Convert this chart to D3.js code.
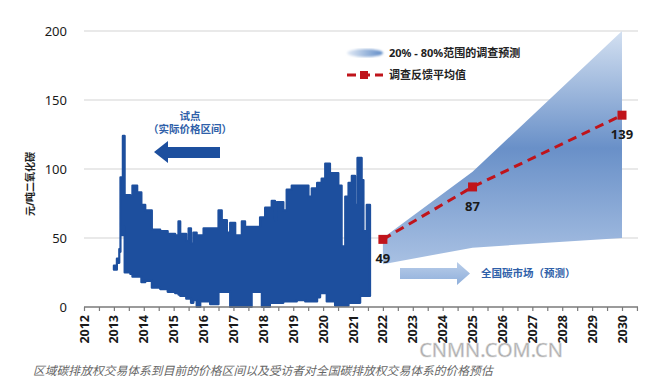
<!DOCTYPE html>
<html>
<head>
<meta charset="utf-8">
<script src="https://cdn.jsdelivr.net/npm/d3@7"></script>
<style>
  body { margin: 0; background: #fff; }
  text { font-family: "Noto Sans", "Noto Sans CJK SC", sans-serif; }
</style>
</head>
<body>
<div id="chart"></div>
<script>
// pilot markets: observed price range (low / high), stepped in time
var histYears = [2013.00, 2013.10, 2013.18, 2013.22, 2013.30, 2013.36, 2013.55, 2013.62, 2013.78, 2013.92,
  2014.05, 2014.27, 2014.55, 2014.80, 2015.05, 2015.16, 2015.22, 2015.42, 2015.50, 2015.58,
  2015.66, 2015.77, 2015.89, 2016.00, 2016.22, 2016.44, 2016.50, 2016.61, 2016.78, 2016.89,
  2017.06, 2017.28, 2017.39, 2017.61, 2017.89, 2017.95, 2018.06, 2018.22, 2018.28, 2018.39,
  2018.45, 2018.67, 2018.78, 2018.95, 2019.12, 2019.40, 2019.51, 2019.62, 2019.80, 2019.90,
  2019.95, 2020.07, 2020.12, 2020.23, 2020.40, 2020.51, 2020.62, 2020.74, 2020.85, 2020.96,
  2021.07, 2021.15, 2021.24, 2021.29, 2021.35, 2021.46, 2021.57];
var histLow = [27, 32, 40, 52, 58, 25, 24, 22, 22, 18,
  19, 14, 13, 11, 10, 9, 8, 6, 6, 3,
  5, 0, 4, 4, 2, 2, 11, 11, 11, 0,
  0, 0, 0, 11, 11, 0, 0, 3, 3, 3,
  3, 4, 4, 4, 5, 4, 4, 4, 7, 10,
  10, 10, 4, 4, 1, 1, 1, 1, 3, 3,
  3, 3, 8, 8, 8, 8, 8];
var histHigh = [30, 35, 42, 94, 124, 81, 80, 88, 83, 74,
  70, 56, 55, 53, 52, 62, 53, 48, 57, 46,
  54, 52, 52, 57, 57, 57, 70, 63, 54, 61,
  52, 62, 58, 58, 65, 65, 72, 72, 77, 63,
  76, 70, 85, 88, 88, 88, 80, 86, 90, 90,
  93, 104, 104, 97, 97, 88, 44, 80, 90, 95,
  74, 108, 108, 92, 55, 74, 74];

// national market survey forecast
var fcYears = [2022, 2025, 2030];
var fcLow = [31, 43, 50];     // 20% band
var fcHigh = [50, 98, 200];   // 80% band
var fcMean = [49, 87, 139];

var yTicks = [0, 50, 100, 150, 200];
var xTickLabels = d3.range(2012, 2031);

var legendLabels = ["20% - 80%范围的调查预测", "调查反馈平均值"];
var pilotLabels = ["试点", "（实际价格区间）"];
var nationalLabel = "全国碳市场（预测）";
var yTitle = "元/吨二氧化碳";
var caption = "区域碳排放权交易体系到目前的价格区间以及受访者对全国碳排放权交易体系的价格预估";
var watermark = "CNMN.COM.CN";

var width = 656, height = 384;

var x = d3.scaleLinear().domain([2012, 2030]).range([84, 622]);
var y = d3.scaleLinear().domain([0, 200]).range([307, 31]);

var svg = d3.select("#chart").append("svg")
  .attr("width", width)
  .attr("height", height);

var defs = svg.append("defs");

// gradient for the forecast band
var bandGrad = defs.append("linearGradient")
  .attr("id", "bandGrad")
  .attr("gradientUnits", "userSpaceOnUse")
  .attr("x1", 0).attr("y1", y(200))
  .attr("x2", 0).attr("y2", y(30));
bandGrad.append("stop").attr("offset", "0%").attr("stop-color", "#d3e0f1");
bandGrad.append("stop").attr("offset", "50%").attr("stop-color", "#6990c8");
bandGrad.append("stop").attr("offset", "100%").attr("stop-color", "#a9c1e3");

var legGrad = defs.append("linearGradient").attr("id", "legGrad");
legGrad.append("stop").attr("offset", "0%").attr("stop-color", "#e3ebf6");
legGrad.append("stop").attr("offset", "100%").attr("stop-color", "#5f8bc6");

var arrowGrad = defs.append("linearGradient").attr("id", "arrowGrad")
  .attr("x1", 0).attr("y1", 0).attr("x2", 0).attr("y2", 1);
arrowGrad.append("stop").attr("offset", "0%").attr("stop-color", "#b9cde9");
arrowGrad.append("stop").attr("offset", "100%").attr("stop-color", "#8fafdb");

var blur = defs.append("filter").attr("id", "soft");
blur.append("feGaussianBlur").attr("stdDeviation", 1.2);

// gridlines
svg.append("g").selectAll("line")
  .data(yTicks.filter(function(d) { return d > 0; }))
  .enter().append("line")
  .attr("x1", 84).attr("x2", 638)
  .attr("y1", function(d) { return y(d); })
  .attr("y2", function(d) { return y(d); })
  .attr("stroke", "#d4d4d4")
  .attr("stroke-width", 1.2);

// forecast band
var bandData = fcYears.map(function(d, i) { return { year: d, lo: fcLow[i], hi: fcHigh[i] }; });
svg.append("path")
  .datum(bandData)
  .attr("d", d3.area()
    .x(function(d) { return x(d.year); })
    .y0(function(d) { return y(d.lo); })
    .y1(function(d) { return y(d.hi); }))
  .attr("fill", "url(#bandGrad)");

// pilot price range
var histData = histYears.map(function(d, i) { return { year: d, lo: histLow[i], hi: histHigh[i] }; });
svg.append("path")
  .datum(histData)
  .attr("d", d3.area()
    .curve(d3.curveStepAfter)
    .x(function(d) { return x(d.year); })
    .y0(function(d) { return y(d.lo); })
    .y1(function(d) { return y(d.hi); }))
  .attr("fill", "#1d4f9e")
  .attr("stroke", "#1d4f9e")
  .attr("stroke-width", 2.2)
  .attr("stroke-linejoin", "round");

// x axis
var xAxis = d3.axisBottom(x)
  .tickValues(d3.range(2012, 2030.6, 0.5))
  .tickSize(4)
  .tickFormat("");
var xg = svg.append("g")
  .attr("transform", "translate(0," + y(0) + ")")
  .call(xAxis);
xg.select(".domain").attr("d", "M84,0H638").attr("stroke", "#7a7a7a").attr("stroke-width", 1.5);
xg.selectAll(".tick line").attr("stroke", "#7a7a7a").attr("stroke-width", 1.2);

svg.append("g").selectAll("text")
  .data(xTickLabels)
  .enter().append("text")
  .attr("transform", function(d) { return "translate(" + (x(d) + 4.5) + ",315) rotate(-90)"; })
  .attr("text-anchor", "end")
  .attr("font-size", 12.5)
  .attr("font-weight", "bold")
  .attr("fill", "#1a1a1a")
  .text(function(d) { return d; });

// y tick labels
svg.append("g").selectAll("text")
  .data(yTicks)
  .enter().append("text")
  .attr("x", 67)
  .attr("y", function(d) { return y(d) + 5; })
  .attr("text-anchor", "end")
  .attr("font-size", 13)
  .attr("fill", "#1a1a1a")
  .text(function(d) { return d; });

svg.append("text")
  .attr("transform", "translate(34,184) rotate(-90)")
  .attr("text-anchor", "middle")
  .attr("font-size", 10)
  .attr("font-weight", "bold")
  .attr("fill", "#222")
  .text(yTitle);

// mean line
var meanData = fcYears.map(function(d, i) { return { year: d, v: fcMean[i] }; });
svg.append("path")
  .datum(meanData)
  .attr("d", d3.line()
    .x(function(d) { return x(d.year); })
    .y(function(d) { return y(d.v); }))
  .attr("fill", "none")
  .attr("stroke", "#c0141b")
  .attr("stroke-width", 3)
  .attr("stroke-dasharray", "9,6");

svg.append("g").selectAll("rect")
  .data(meanData)
  .enter().append("rect")
  .attr("x", function(d) { return x(d.year) - 4.5; })
  .attr("y", function(d) { return y(d.v) - 4.5; })
  .attr("width", 9).attr("height", 9)
  .attr("fill", "#c0141b");

svg.append("g").selectAll("text")
  .data(meanData)
  .enter().append("text")
  .attr("x", function(d) { return x(d.year); })
  .attr("y", function(d) { return y(d.v) + 24; })
  .attr("text-anchor", "middle")
  .attr("font-size", 13)
  .attr("font-weight", "bold")
  .attr("fill", "#1a1a1a")
  .text(function(d) { return d.v; });

// legend
svg.append("ellipse")
  .attr("cx", 365).attr("cy", 53).attr("rx", 18).attr("ry", 4)
  .attr("fill", "url(#legGrad)")
  .attr("filter", "url(#soft)");
svg.append("line")
  .attr("x1", 347).attr("x2", 383).attr("y1", 75).attr("y2", 75)
  .attr("stroke", "#c0141b").attr("stroke-width", 3)
  .attr("stroke-dasharray", "9,5");
svg.append("rect")
  .attr("x", 360).attr("y", 71).attr("width", 8).attr("height", 8)
  .attr("fill", "#c0141b");
svg.append("g").selectAll("text")
  .data(legendLabels)
  .enter().append("text")
  .attr("x", 389)
  .attr("y", function(d, i) { return 57 + i * 22; })
  .attr("font-size", 11)
  .attr("font-weight", "bold")
  .attr("fill", "#222")
  .text(function(d) { return d; });

// pilot annotation with left arrow
svg.append("g").selectAll("text")
  .data(pilotLabels)
  .enter().append("text")
  .attr("x", 190)
  .attr("y", function(d, i) { return 120 + i * 12.5; })
  .attr("text-anchor", "middle")
  .attr("font-size", 10.5)
  .attr("font-weight", "bold")
  .attr("fill", "#2f5fa9")
  .text(function(d) { return d; });
svg.append("path")
  .attr("d", "M154,152 L168,141 L168,147 L220,147 L220,158 L168,158 L168,163 Z")
  .attr("fill", "#1d4f9e");

// national market annotation with right arrow
svg.append("path")
  .attr("d", "M400,268 L457,268 L457,262 L470,273.5 L457,285 L457,279 L400,279 Z")
  .attr("fill", "url(#arrowGrad)");
svg.append("text")
  .attr("x", 481)
  .attr("y", 277)
  .attr("font-size", 10.5)
  .attr("font-weight", "bold")
  .attr("fill", "#2f5fa9")
  .text(nationalLabel);

// watermark
svg.append("text")
  .attr("x", 491)
  .attr("y", 357)
  .attr("text-anchor", "middle")
  .attr("font-family", "Liberation Sans, Arial, sans-serif")
  .attr("font-size", 20)
  .attr("fill", "#a6a6a6")
  .attr("stroke", "#d8d8d8")
  .attr("stroke-width", 0.6)
  .text(watermark);

// caption (CJK fonts have no italic, so slant it by hand)
svg.append("g")
  .attr("transform", "translate(33,375) skewX(-14)")
  .append("text")
  .attr("x", 0)
  .attr("y", 0)
  .attr("font-size", 11.8)
  .attr("fill", "#666")
  .text(caption);
</script>
</body>
</html>
